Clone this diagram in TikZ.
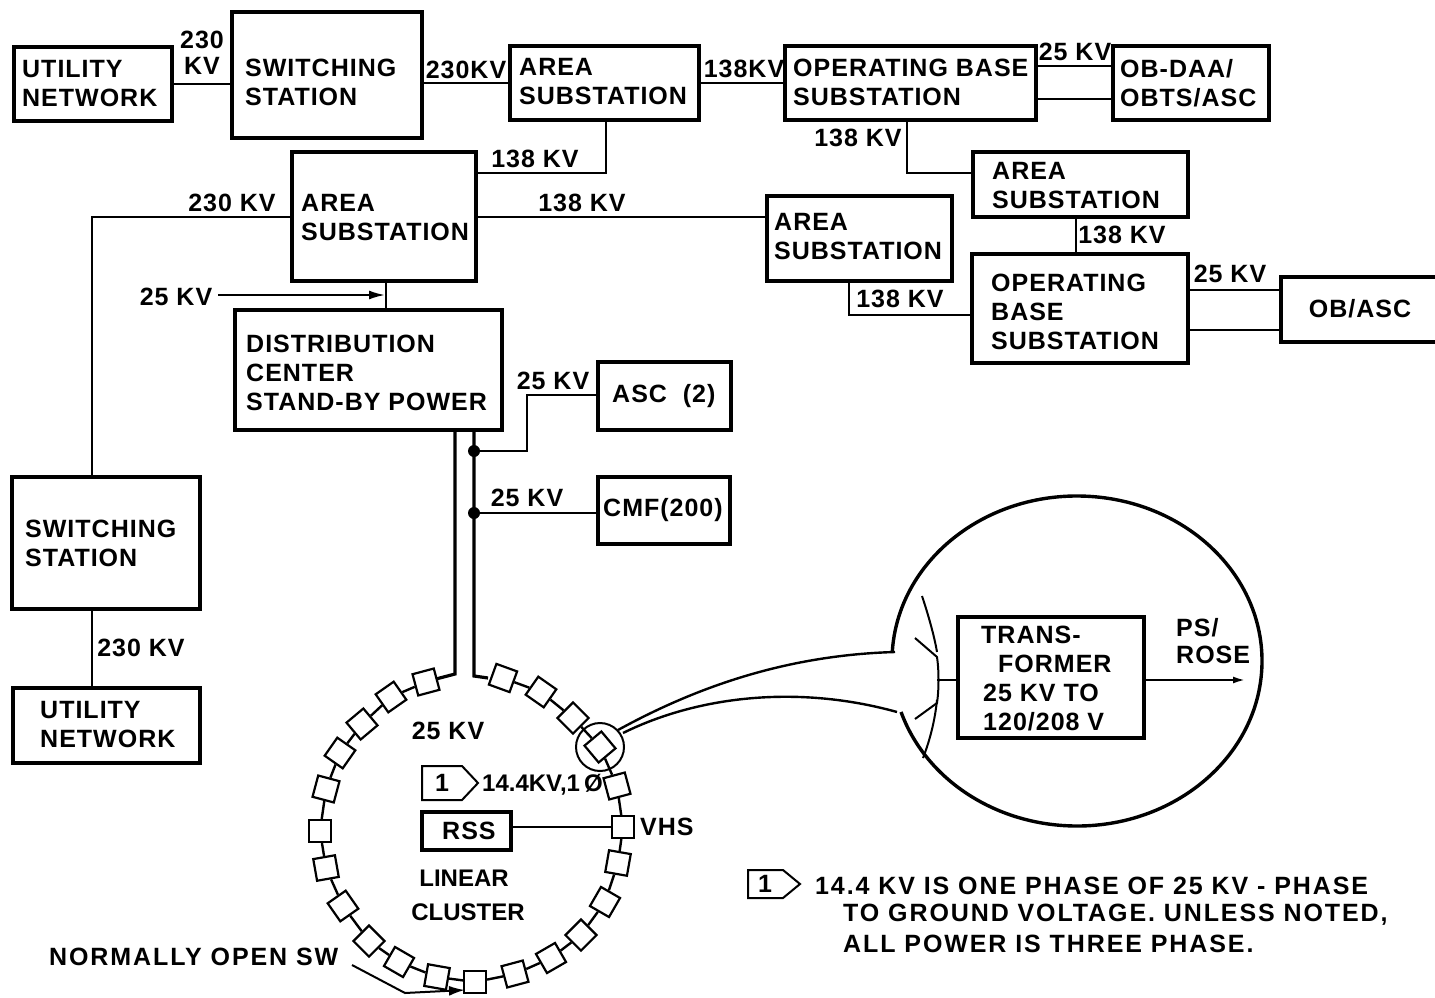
\documentclass[tikz,border=0pt]{standalone}
\usepackage{fontspec}
\setmainfont{Liberation Sans}[BoldFont={Liberation Sans Bold},LetterSpace=4]
\newfontfamily\widefont{Liberation Sans Bold}[LetterSpace=7.6]
\newfontfamily\tightfont{Liberation Sans Bold}
\usetikzlibrary{arrows.meta}
\tikzset{x=1pt,y=-1pt,
 lab/.style={inner sep=0pt,align=center,font=\fontsize{25}{29}\selectfont\bfseries},
 widelab/.style={inner sep=0pt,anchor=west,font=\fontsize{25}{29}\selectfont\widefont},
 tightlab/.style={inner sep=0pt,font=\fontsize{24}{29}\selectfont\tightfont},
 wire/.style={line width=2pt},
 ringw/.style={line width=2.4pt},
 sq/.style={draw,line width=2.2pt,fill=white,minimum size=22pt,inner sep=0pt},
 dotn/.style={circle,fill=black,inner sep=0pt,minimum size=12pt}}
\newcommand{\bx}[8]{\path[draw,line width=3.2pt] (#2,#3) rectangle (#4,#5);
 \node[inner sep=0pt,outer sep=0pt,minimum width=#4pt-#2pt,minimum height=#5pt-#3pt,anchor=north west] (#1) at (#2,#3) {};
 \node[lab,align=left,anchor=west] (#1t) at (#2+#6,{(#3+#5)/2+#7}) {#8};}
\begin{document}
\begin{tikzpicture}
\useasboundingbox (0,0) rectangle (1435,998);
% boxes
\bx{un1}{14}{47}{172}{121}{8}{0}{UTILITY\\NETWORK}
\bx{ss1}{232}{12}{422}{138}{13}{7}{SWITCHING\\STATION}
\bx{as1}{510}{46}{699}{120}{9}{-1}{AREA\\SUBSTATION}
\bx{ob1}{785}{46}{1036}{120}{8}{-1}{OPERATING BASE\\SUBSTATION}
\bx{daa}{1113}{46}{1269}{120}{7}{0}{OB-DAA/\\OBTS/ASC}
\bx{as2}{973}{152}{1188}{217}{19}{1}{AREA\\SUBSTATION}
\bx{asc}{292}{152}{476}{281}{9}{1}{AREA\\SUBSTATION}
\bx{as3}{767}{196}{952}{281}{7}{-2}{AREA\\SUBSTATION}
\bx{ob2}{972}{254}{1188}{363}{19}{3}{OPERATING\\BASE\\SUBSTATION}
\bx{dc}{235}{310}{502}{430}{11}{3}{DISTRIBUTION\\CENTER\\STAND-BY POWER}
\bx{asc2}{598}{362}{731}{430}{14}{0}{ASC\ \ (2)}
\bx{cmf}{598}{477}{730}{544}{5}{0}{CMF(200)}
\bx{ss2}{12}{477}{200}{609}{13}{0}{SWITCHING\\STATION}
\bx{un2}{13}{688}{200}{763}{27}{-1}{UTILITY\\NETWORK}
\bx{tr}{958}{617}{1144}{738}{25}{1}{\hspace{-2pt}TRANS-\\\hspace{15pt}FORMER\\25 KV TO\\120/208 V}
\bx{rss}{422}{812}{511}{850}{20}{0}{RSS}
% OB/ASC open at the right edge
\draw[line width=3.2pt] (1435,277) -- (1281,277) -- (1281,342) -- (1435,342);
\node[lab] (obasc) at (1360,309) {OB/ASC};
% coordinates
\coordinate (a1) at (606,173); \coordinate (a2) at (907,173);
\coordinate (a3) at (92,217); \coordinate (a4) at (849,315);
\coordinate (a5) at (527,451); \coordinate (a6) at (527,395);
\node[dotn] (d1) at (474,451) {}; \node[dotn] (d2) at (474,513) {};
% connectors
\draw[wire] (un1.east) -- (ss1.west|-un1.east);
\draw[wire] (ss1.east|-as1.west) -- (as1.west);
\draw[wire] (as1.east) -- (ob1.west);
\draw[wire] (1036,66) -- (1113,66); \draw[wire] (1036,99) -- (1113,99);
\draw[wire] (606,120) -- (a1) -- (476,173);
\draw[wire] (476,217) -- (767,217);
\draw[wire] (292,217) -- (a3) -- (92,477);
\draw[wire] (907,120) -- (a2) -- (973,173);
\draw[wire] (1076,217) -- (1076,254);
\draw[wire] (849,281) -- (a4) -- (972,315);
\draw[wire] (1188,290) -- (1281,290); \draw[wire] (1188,330) -- (1281,330);
\draw[wire] (386,281) -- (386,310);
\draw[wire,-{Latex[length=16pt,width=9pt]}] (218,295) -- (385,295);
\draw[wire] (92,609) -- (92,688);
\draw[line width=2.5pt] (d1) -- (a5) -- (a6) -- (598,395);
\draw[line width=2.5pt] (d2) -- (598,513);
\draw[line width=3.2pt] (474,430) -- (474,676) -- (488,678);
\draw[line width=3.2pt] (455,430) -- (455,674) -- (436,679);
% ring
\foreach \n/\x/\y/\r in {1/426/682/15,2/391/697/35,3/362/724/40,4/340/753/55,5/326/789/75,6/320/831/90,7/326/868/100,8/343/906/125,9/369/941/135,10/399/962/150,11/437/977/170,12/475/982/180,13/515/974/195,14/551/958/210,15/581/935/225,16/605/902/240,17/618/863/260,18/623/827/270,19/617/786/285,20/600/747/310,21/573/718/315,22/541/692/325,23/503/678/340}
 {\node[sq,rotate=\r] (s\n) at (\x,\y) {};}
\foreach \a/\b in {1/2,2/3,3/4,4/5,5/6,6/7,7/8,8/9,9/10,10/11,11/12,12/13,13/14,14/15,15/16,16/17,17/18,18/19,19/20,20/21,21/22,22/23}
 {\draw[ringw] (s\a) -- (s\b);}
\draw[wire] (511,827) -- (s18);
\node[circle,draw,line width=2pt,minimum size=48pt,inner sep=0pt] (small) at (600,747) {};
% funnel and magnified circle
\draw[ringw] (618,730) .. controls (700,685) and (790,655) .. (895,652);
\draw[ringw] (623,733) .. controls (700,695) and (800,685) .. (897,712);
\draw[line width=3.4pt] (1077,661) ++(-177:185 and 165) arc[start angle=-177,end angle=162,x radius=185,y radius=165];
\draw[wire] (922,596) .. controls (930,620) and (935,640) .. (937,652);
\draw[wire] (915,638) -- (937,657) .. controls (939,670) and (939,690) .. (937,703) -- (915,719);
\draw[wire] (937,700) .. controls (935,720) and (930,740) .. (923,758);
\draw[wire] (937,680) -- (958,680);
\draw[wire,-{Latex[length=12pt,width=7pt]}] (1144,680) -- (1245,680);
% normally-open arrow
\coordinate (n1) at (352,965); \coordinate (n2) at (405,993);
\draw[wire,-{Latex[length=16pt,width=10pt]}] (n1) -- (n2) -- (465,990);
% flags
\draw[line width=2pt] (422,766) -- (462,766) -- (478,783) -- (462,800) -- (422,800) -- cycle;
\node[lab] (f1) at (442,783) {1};
\draw[line width=2pt] (748,870) -- (783,870) -- (800,884) -- (783,898) -- (748,898) -- cycle;
\node[lab] (f2) at (765,884) {1};
% labels
\node[lab] (l1) at (202,53) {230\\[-3pt]KV};
\node[lab] (l2) at (466,70) {230KV};
\node[lab] (l3) at (744,69) {138KV};
\node[lab] (l4) at (1075,52) {25 KV};
\node[lab] (l5) at (535,159) {138 KV};
\node[lab] (l6) at (582,203) {138 KV};
\node[lab] (l7) at (232,203) {230 KV};
\node[lab] (l8) at (858,138) {138 KV};
\node[lab] (l9) at (1122,235) {138 KV};
\node[lab] (l10) at (900,299) {138 KV};
\node[lab] (l11) at (1230,274) {25 KV};
\node[lab] (l12) at (176,297) {25 KV};
\node[lab] (l13) at (553,381) {25 KV};
\node[lab] (l14) at (527,498) {25 KV};
\node[lab] (l15) at (141,648) {230 KV};
\node[lab] (l16) at (448,731) {25 KV};
\node[tightlab,anchor=west] (l17) at (482,785) {14.4KV,1\,Ø};
\node[lab,anchor=west] (l18) at (640,827) {VHS};
\node[tightlab] (l19) at (464,878) {LINEAR};
\node[tightlab] (l20) at (468,912) {CLUSTER};
\node[lab,align=left,anchor=west] (l21) at (1176,641) {PS/\\[-2pt]ROSE};
\node[widelab] (l22) at (49,957) {NORMALLY OPEN SW};
\node[widelab] (l23) at (815,886) {14.4 KV IS ONE PHASE OF 25 KV - PHASE};
\node[widelab] (l24) at (843,915) {TO GROUND VOLTAGE. UNLESS NOTED,};
\node[widelab] (l25) at (843,944) {ALL POWER IS THREE PHASE.};
\end{tikzpicture}
\end{document}
